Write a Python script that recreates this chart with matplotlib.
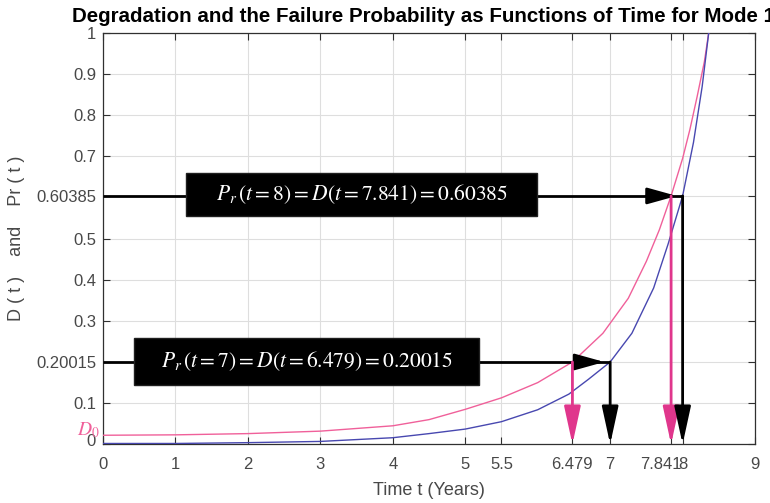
import matplotlib
matplotlib.use("Agg")
import matplotlib.pyplot as plt
import matplotlib.transforms as mtransforms
from matplotlib.patches import Rectangle

plt.rcParams['font.family'] = ['Liberation Sans', 'DejaVu Sans']
plt.rcParams['mathtext.fontset'] = 'stix'

# degradation D(t) (pink) and failure probability Pr(t) (blue), read at sample times
t_deg = [0, 1, 2, 3, 4, 4.5, 5, 5.5, 6, 6.479, 6.9, 7.25, 7.5, 7.68, 7.841,
         8.0, 8.1, 8.2, 8.3, 8.36, 8.4]
deg = [0.022, 0.023, 0.026, 0.032, 0.045, 0.060, 0.085, 0.113, 0.150, 0.20015,
       0.270, 0.355, 0.445, 0.522, 0.60385, 0.695, 0.765, 0.845, 0.930, 1.0, 1.05]

t_prob = [0, 1, 2, 3, 4, 4.5, 5, 5.5, 6, 6.43, 6.7, 7, 7.3, 7.6, 7.8, 8.0,
          8.15, 8.27, 8.36, 8.4]
prob = [0.002, 0.002, 0.004, 0.007, 0.016, 0.026, 0.037, 0.055, 0.084, 0.122,
        0.158, 0.20015, 0.270, 0.380, 0.487, 0.60385, 0.734, 0.870, 1.0, 1.06]

# (time of D, time of Pr, level) for the two annotated cases
cases = [(6.479, 7, 0.20015), (7.841, 8, 0.60385)]
box_texts = [r'$P_r\,(t = 7) = D(t = 6.479) = 0.20015$',
             r'$P_r\,(t = 8) = D(t = 7.841) = 0.60385$']
# box extents in data units: (x0, x1, y0, y1)
box_extents = [(0.43, 5.19, 0.144, 0.259), (1.15, 5.99, 0.555, 0.660)]

xticks = [0, 1, 2, 3, 4, 5, 5.5, 6.479, 7, 7.841, 8, 9]
xtick_labels = ['0', '1', '2', '3', '4', '5', '5.5', '6.479', '7', '7.841', '8', '9']
yticks = [0, 0.1, 0.20015, 0.3, 0.4, 0.5, 0.60385, 0.7, 0.8, 0.9, 1]
ytick_labels = ['0', '0.1', '0.20015', '0.3', '0.4', '0.5', '0.60385',
                '0.7', '0.8', '0.9', '1']

pink = '#f0609a'
magenta = '#e0368c'
blue = '#4848b0'
grey = '#484848'

fig = plt.figure(figsize=(7.7, 5.03), dpi=100)
ax = fig.add_axes([0.1338, 0.1167, 0.8468, 0.8177])

ax.plot(t_deg, deg, color=pink, lw=1.0, zorder=3)
ax.plot(t_prob, prob, color=blue, lw=1.0, zorder=3)

for t_d, t_p, lvl in cases:
    # horizontal arrow from the y axis towards the Pr curve
    ax.plot([0, t_p], [lvl, lvl], color='black', lw=2, zorder=4,
            solid_capstyle='butt')
    ax.annotate('', xy=(t_p - 0.08, lvl), xytext=(t_p - 0.5, lvl),
                arrowprops=dict(arrowstyle='-|>,head_length=0.9,head_width=0.25',
                                color='black', lw=2, mutation_scale=20,
                                shrinkA=0, shrinkB=0), zorder=5)
    # vertical drops to the time axis
    ax.annotate('', xy=(t_d, 0), xytext=(t_d, lvl),
                arrowprops=dict(arrowstyle='-|>,head_length=1.15,head_width=0.25',
                                color=magenta, lw=2, mutation_scale=20,
                                shrinkA=0, shrinkB=0), zorder=5)
    ax.annotate('', xy=(t_p, 0), xytext=(t_p, lvl),
                arrowprops=dict(arrowstyle='-|>,head_length=1.15,head_width=0.25',
                                color='black', lw=2, mutation_scale=20,
                                shrinkA=0, shrinkB=0), zorder=5)

for (x0, x1, y0, y1), txt in zip(box_extents, box_texts):
    ax.add_patch(Rectangle((x0, y0), x1 - x0, y1 - y0, fc='black',
                           ec='#202020', lw=1, zorder=6))
    ax.text((x0 + x1) / 2, (y0 + y1) / 2, txt, color='white', fontsize=15.5,
            ha='center', va='center', zorder=7)

ax.set_xlim(0, 9)
ax.set_ylim(0, 1)
ax.set_xticks(xticks)
ax.set_xticklabels(xtick_labels)
ax.set_yticks(yticks)
ax.set_yticklabels(ytick_labels)
ax.tick_params(direction='in', top=True, right=True, length=5, width=0.8,
               labelsize=12, labelcolor=grey, color='#303030')
ax.tick_params(axis='x', pad=9)
ax.tick_params(axis='y', pad=5)

# nudge the crowded 7.841 label left and lift the y-axis "0"
for lab in ax.get_xticklabels():
    if lab.get_text() == '7.841':
        lab.set_transform(lab.get_transform() +
                          mtransforms.ScaledTranslation(-10 / 100, 0, fig.dpi_scale_trans))
for lab in ax.get_yticklabels():
    if lab.get_text() == '0':
        lab.set_transform(lab.get_transform() +
                          mtransforms.ScaledTranslation(0, 4 / 100, fig.dpi_scale_trans))

ax.grid(True, color='#dedede', lw=0.8)
ax.set_axisbelow(True)
for sp in ax.spines.values():
    sp.set_color('#303030')
    sp.set_linewidth(0.9)

ax.text(-0.04, 0.034, r'$D_0$', color=pink, fontsize=14, ha='right',
        va='center', clip_on=False)

ax.set_xlabel('Time t (Years)', fontsize=13, color=grey)
ax.xaxis.set_label_coords(0.5, -0.092)
ax.set_ylabel('D ( t )    and    Pr ( t )', fontsize=13, color=grey)
ax.yaxis.set_label_coords(-0.12, 0.5)
ax.set_title('Degradation and the Failure Probability as Functions of Time for Mode 1',
             fontsize=14.8, fontweight='bold', pad=8, x=0.492)

fig.savefig('out.png', dpi=100)
